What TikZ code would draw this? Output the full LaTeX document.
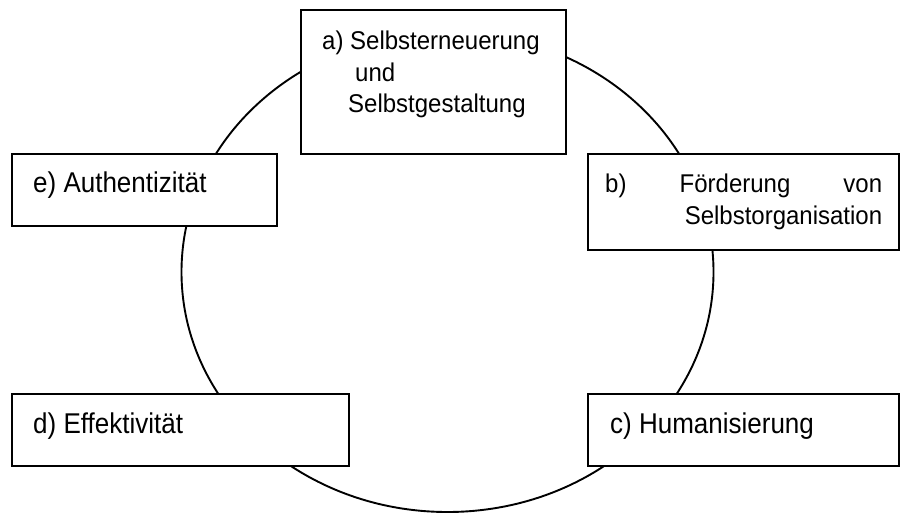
\documentclass[tikz,border=0pt]{standalone}
\usepackage{fontspec}
\setmainfont{Liberation Sans}
% text set slightly taller than wide, as in the printed chart
\newcommand{\tall}[2][1.1]{\scalebox{1}[#1]{#2}}
\begin{document}
\begin{tikzpicture}[x=1pt,y=-1pt,
  box/.style={draw=black,line width=2pt,fill=white,inner sep=0pt},
  lbl/.style={inner sep=0pt,anchor=base west,align=left,
    font=\fontsize{24}{31.5}\selectfont},
  big/.style={inner sep=0pt,anchor=base west,
    font=\fontsize{26}{31.5}\selectfont}]
\useasboundingbox (0,0) rectangle (901,513);
% the cycle behind the boxes
\draw[line width=1.9pt] (447.5,272) ellipse [x radius=266, y radius=240];
% boxes
\node[box,minimum width=265pt,minimum height=144pt] (a) at (433.5,82) {};
\node[box,minimum width=311pt,minimum height=96pt] (b) at (743.5,202) {};
\node[box,minimum width=311pt,minimum height=72pt] (c) at (743.5,430) {};
\node[box,minimum width=337pt,minimum height=72pt] (d) at (180.5,430) {};
\node[box,minimum width=265pt,minimum height=72pt] (e) at (144.5,190) {};
% labels
\node[lbl] (ta) at (322,113) {\tall[1.07]{a) Selbsterneuerung}\\\hspace*{33pt}\tall[1.07]{und}\\\hspace*{26pt}\tall[1.07]{Selbstgestaltung}};
\node[lbl,text width=277pt] (tb) at (605,193) {\tall[1.07]{\makebox[277pt][s]{b)\hfill Förderung\hfill von}}\\\hfill\tall[1.07]{Selbstorganisation}};
\node[big] (tc) at (610,433) {\tall{c) Humanisierung}};
\node[big] (td) at (33,433) {\tall{d) Effektivität}};
\node[big] (te) at (33,193) {\tall{e) Authentizität}};
\end{tikzpicture}
\end{document}
